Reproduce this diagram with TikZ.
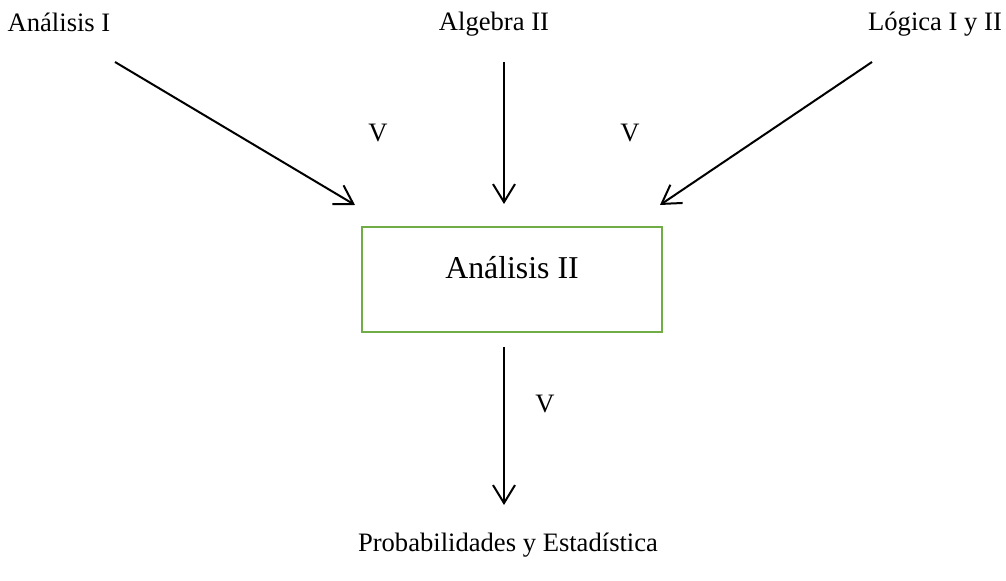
\documentclass[tikz,border=0pt]{standalone}
\usepackage{fontspec}
\setmainfont{Liberation Serif}
\usepackage{tikz}
\usetikzlibrary{positioning,arrows.meta}
\definecolor{green1}{HTML}{70AD47}

\begin{document}
\begin{tikzpicture}[
    x=0.5pt, y=-0.5pt,
    >={Straight Barb[length=9pt,width=11pt]},
    lbl/.style={inner sep=0pt, font=\fontsize{13.3}{16}\selectfont},
    mbox/.style={draw=green1, line width=1pt, inner sep=0pt,
                 minimum width=150pt, minimum height=52.5pt,
                 text height=11pt, text depth=12.1pt,
                 font=\fontsize{15.9}{19}\selectfont},
    arr/.style={->, line width=1pt},
]
\useasboundingbox (0,0) rectangle (1006,581);
\node[lbl] (ana1) at (59,22) {Análisis I};
\node[lbl] (alg2) at (494,24) {Algebra II};
\node[lbl] (log) at (935,24) {Lógica I y II};
\node[mbox] (ana2) at (512,279.5) {Análisis II};
\node[lbl] (prob) at (508,545) {Probabilidades y Estadística};

\node[lbl] (v1) at (378,133) {V};
\node[lbl] (v2) at (630,133) {V};
\node[lbl] (v3) at (545,404) {V};

\coordinate (s1) at (115,62);
\coordinate (e1) at (355,205);
\coordinate (s2) at (504,62);
\coordinate (e2) at (504,204);
\coordinate (s3) at (872,62);
\coordinate (e3) at (660,205);
\coordinate (s4) at (504,347);
\coordinate (e4) at (504,505);

\draw[arr] (s1) -- (e1);
\draw[arr] (s2) -- (e2);
\draw[arr] (s3) -- (e3);
\draw[arr] (s4) -- (e4);
\end{tikzpicture}
\end{document}
